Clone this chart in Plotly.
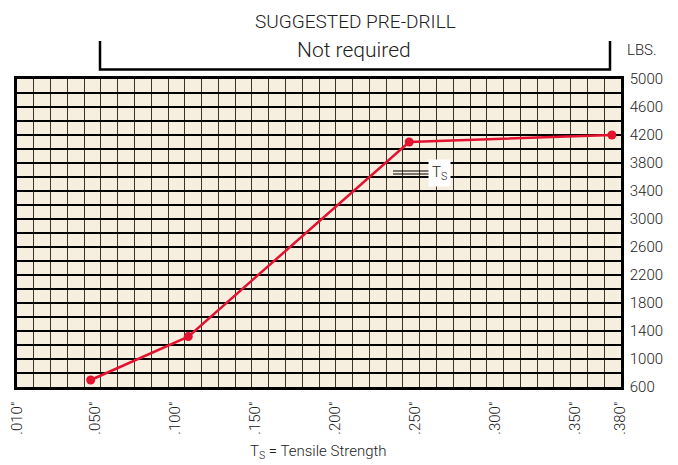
import plotly.graph_objects as go

# Data (x = thickness in inches, y = load in lbs)
thickness = [0.0473, 0.1083, 0.2464, 0.3731]
load_lbs = [700, 1320, 4100, 4200]

x_tick_vals = [0.0016, 0.05, 0.10, 0.15, 0.20, 0.25, 0.30, 0.35, 0.3785]
x_tick_text = ['.010"', '.050"', '.100"', '.150"', '.200"', '.250"', '.300"', '.350"', '.380"']
y_tick_vals = [600, 1000, 1400, 1800, 2200, 2600, 3000, 3400, 3800, 4200, 4600, 5000]

X_RANGE = [0.00125, 0.3788]
Y_RANGE = [600, 5000]
N_COLS = 36

FONT = "Roboto, sans-serif"
W = 300
TXT = "#222222"
RED = "#E3122F"

# page body has an 8px default margin; plot area target in window px: x 17..621, y 79..387
OFF = 8
PL, PR, PT, PB = 17, 621, 79, 387
FIG_W, FIG_H = 678 - OFF, 465 - OFF

fig = go.Figure()
fig.add_trace(go.Scatter(
    x=thickness, y=load_lbs, mode="lines+markers",
    line=dict(color=RED, width=2.5),
    marker=dict(color=RED, size=9),
    showlegend=False, hoverinfo="skip",
))

fig.update_layout(
    width=FIG_W, height=FIG_H,
    margin=dict(l=PL - OFF, r=OFF + FIG_W - PR, t=PT - OFF, b=OFF + FIG_H - PB, pad=0),
    paper_bgcolor="white",
    plot_bgcolor="#F6EEDF",
    font=dict(family=FONT, size=15, color=TXT, weight=W),
    showlegend=False,
    xaxis=dict(
        range=X_RANGE, tickmode="array", tickvals=x_tick_vals, ticktext=x_tick_text,
        tickangle=-90, showgrid=False, zeroline=False, automargin=False,
        ticks="outside", ticklen=6, tickcolor="rgba(0,0,0,0)",
        tickfont=dict(size=15, family=FONT, color=TXT, weight=W),
        showline=True, linecolor="black", linewidth=2.5, mirror=True,
        minor=dict(showgrid=True, tick0=X_RANGE[0], dtick=(X_RANGE[1] - X_RANGE[0]) / N_COLS,
                   gridcolor="#3a3328", gridwidth=1.3),
    ),
    yaxis=dict(
        range=Y_RANGE, side="right", tickmode="array", tickvals=y_tick_vals,
        showgrid=False, zeroline=False, automargin=False,
        ticks="outside", ticklen=3, tickcolor="rgba(0,0,0,0)",
        tickfont=dict(size=15, family=FONT, color=TXT, weight=W),
        showline=True, linecolor="black", linewidth=2.5, mirror=True,
        minor=dict(showgrid=True, tick0=600, dtick=200, gridcolor="black", gridwidth=2.2),
    ),
)


def px_to_paper_x(px):
    return (px - PL) / (PR - PL)


def px_to_paper_y(py):
    return (PB - py) / (PB - PT)


# Bracket above the chart
bx0, bx1 = 100, 610
fig.add_shape(type="path", xref="paper", yref="paper",
              path=(f"M {px_to_paper_x(bx0)} {px_to_paper_y(41)} "
                    f"L {px_to_paper_x(bx0)} {px_to_paper_y(69.5)} "
                    f"L {px_to_paper_x(bx1)} {px_to_paper_y(69.5)} "
                    f"L {px_to_paper_x(bx1)} {px_to_paper_y(41)}"),
              line=dict(color="black", width=2.5))


def label(text, px, py, size, xanchor="center"):
    fig.add_annotation(text=text, xref="paper", yref="paper",
                       x=px_to_paper_x(px), y=px_to_paper_y(py),
                       xanchor=xanchor, yanchor="middle", showarrow=False,
                       font=dict(size=size, family=FONT, color=TXT, weight=W))


label("SUGGESTED PRE-DRILL", 355, 22, 19)
label("Not required", 354, 50, 21)
label("LBS.", 625, 50, 15, xanchor="left")
label("T<sub>S</sub> = Tensile Strength", 318, 452, 15)

# T_S callout
for yy in (171, 174):
    fig.add_shape(type="line", xref="paper", yref="paper",
                  x0=px_to_paper_x(393), x1=px_to_paper_x(429),
                  y0=px_to_paper_y(yy), y1=px_to_paper_y(yy),
                  line=dict(color="black", width=1))
fig.add_annotation(text="T<sub>S</sub>", xref="paper", yref="paper",
                   x=px_to_paper_x(428), y=px_to_paper_y(173), xanchor="left", yanchor="middle",
                   showarrow=False, bgcolor="white", borderpad=3,
                   font=dict(size=15, family=FONT, color=TXT, weight=W))

fig.write_html("out.html")
